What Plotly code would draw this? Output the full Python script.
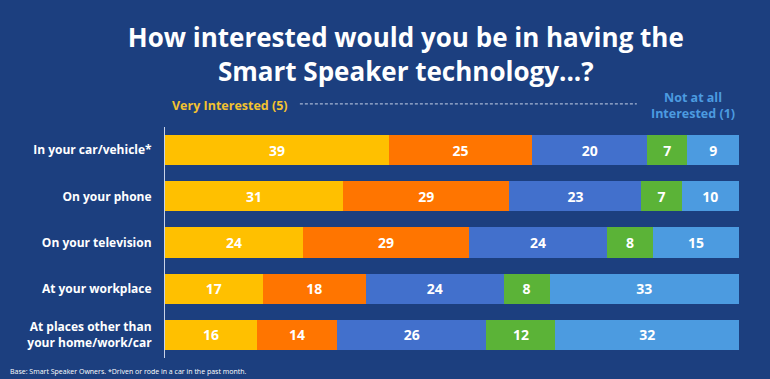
import plotly.graph_objects as go

categories = ["In your car/vehicle*", "On your phone", "On your television",
              "At your workplace", "At places other than<br>your home/work/car"]
series_names = ["Very Interested (5)", "4", "3", "2", "Not at all Interested (1)"]
v5 = [39, 31, 24, 17, 16]
v4 = [25, 29, 29, 18, 14]
v3 = [20, 23, 24, 24, 26]
v2 = [7, 7, 8, 8, 12]
v1 = [9, 10, 15, 33, 32]
colors = ["#FFC000", "#FF7500", "#4270CC", "#5BB337", "#4C9BE0"]

bg = "#1C3F7F"
fig = go.Figure()
for name, vals, col in zip(series_names, [v5, v4, v3, v2, v1], colors):
    fig.add_trace(go.Bar(
        y=categories, x=vals, name=name, orientation="h",
        marker=dict(color=col, line=dict(width=0)),
        text=[str(v) for v in vals], textposition="inside",
        insidetextanchor="middle",
        textfont=dict(color="white", size=14, family="Open Sans", weight="bold"),
        hoverinfo="skip",
    ))

fig.update_layout(
    barmode="stack", bargap=0.35,
    width=770, height=379,
    paper_bgcolor=bg, plot_bgcolor=bg,
    margin=dict(l=165, r=31, t=127, b=21),
    showlegend=False,
    font=dict(family="Open Sans", color="white"),
    title=dict(text="How interested would you be in having the<br>Smart Speaker technology...?",
               x=0.527, xanchor="center", y=0.876, yanchor="middle",
               font=dict(size=26, color="white", family="Open Sans", weight="bold")),
    xaxis=dict(range=[0, 100], visible=False, fixedrange=True),
    yaxis=dict(autorange="reversed", showline=True, linecolor="#C8D3E8", linewidth=1,
               showgrid=False, zeroline=False, ticks="", ticklabelstandoff=10,
               fixedrange=True,
               tickfont=dict(size=12, color="white", family="Open Sans", weight="bold")),
    shapes=[dict(type="line", xref="paper", yref="paper", x0=0.235, x1=0.822,
                 y0=1.1, y1=1.1, line=dict(color="#C8D3E8", width=1, dash="3px,2px"))],
    annotations=[
        dict(text="Very Interested (5)", xref="paper", yref="paper", x=0.008, y=1.093,
             xanchor="left", yanchor="middle", showarrow=False,
             font=dict(size=12.5, color="#F2C230", family="Open Sans", weight="bold")),
        dict(text="Not at all<br>Interested (1)", xref="paper", yref="paper", x=0.92, y=1.095,
             xanchor="center", yanchor="middle", showarrow=False,
             font=dict(size=12.5, color="#4C9BE0", family="Open Sans", weight="bold")),
        dict(text="Base: Smart Speaker Owners. *Driven or rode in a car in the past month.",
             xref="paper", yref="paper", x=-0.273, y=-0.06, xanchor="left", yanchor="middle",
             showarrow=False, font=dict(size=7, color="white", family="Open Sans")),
    ],
)

fig.write_html("out.html", config={"displayModeBar": False},
               post_script="document.body.style.margin='0';")
